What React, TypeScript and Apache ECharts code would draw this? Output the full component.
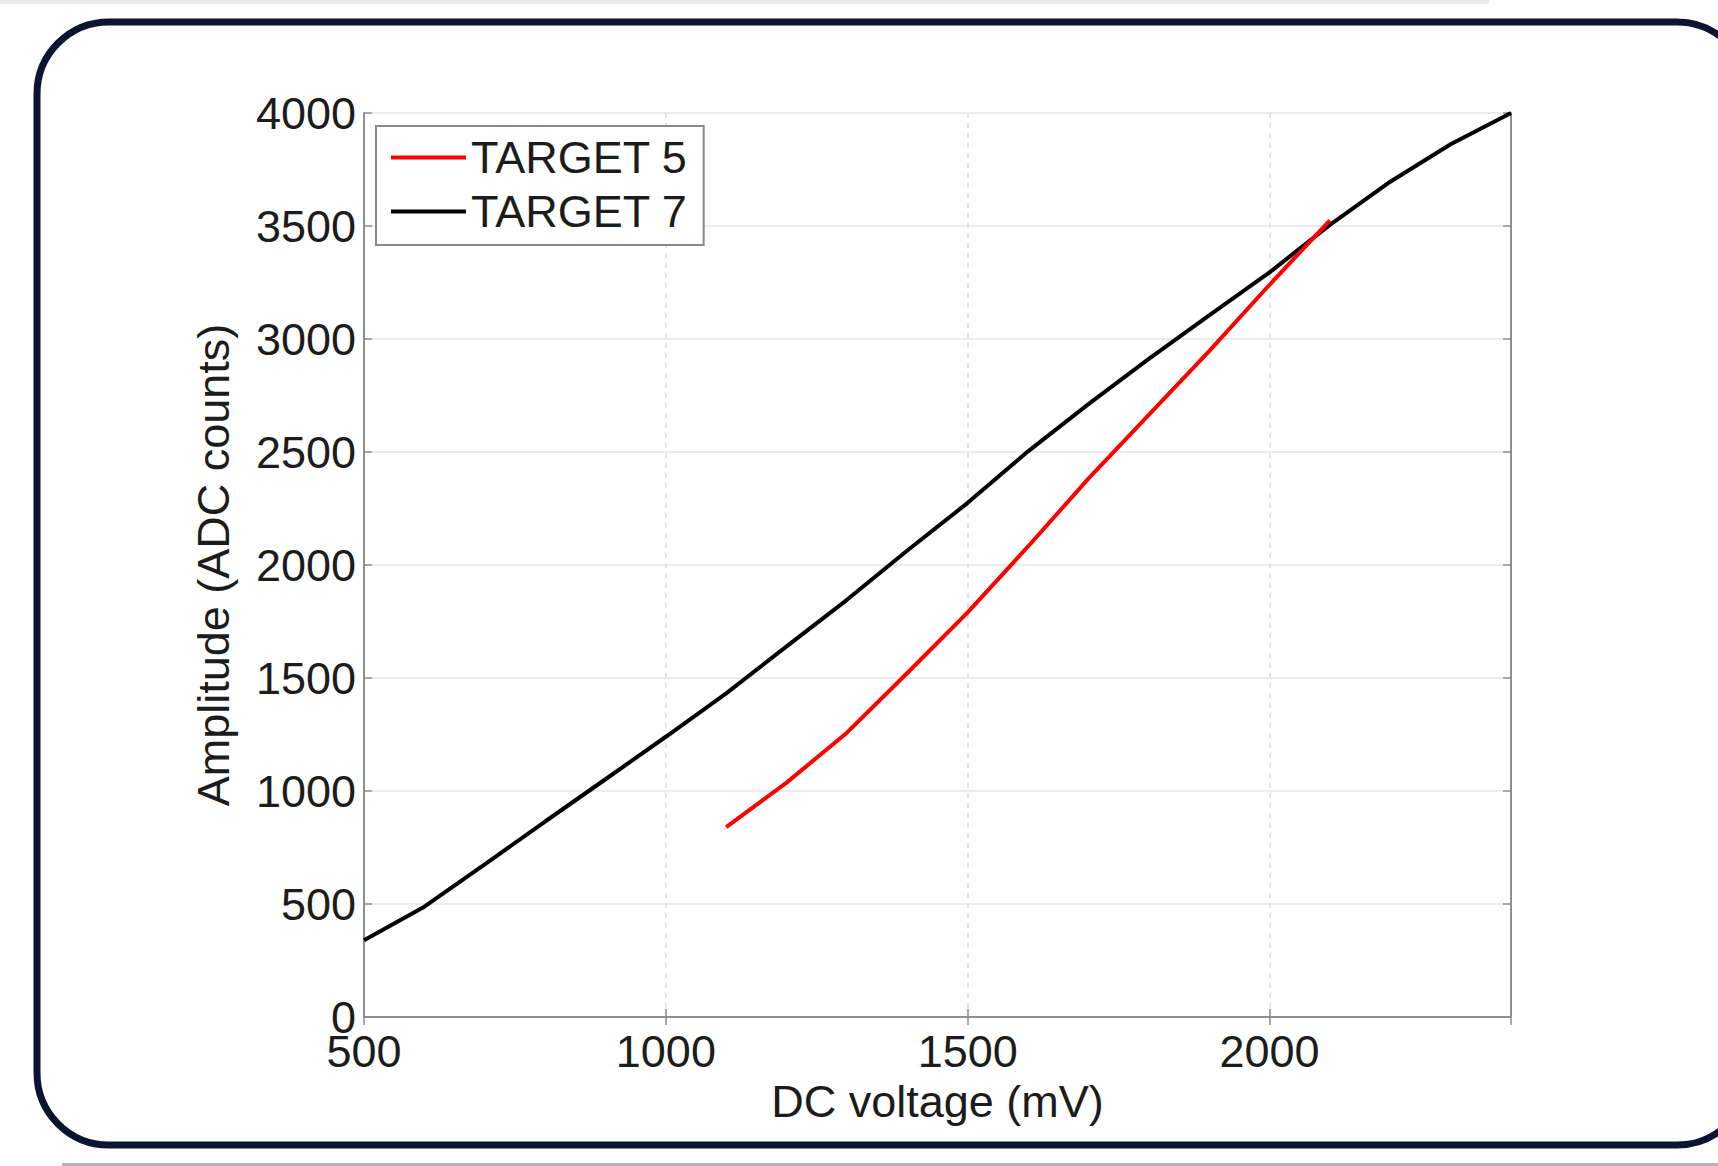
import React, { useEffect, useRef } from "react";
import * as echarts from "echarts";

// ---- data ----
const voltage5 = [1100, 1200, 1300, 1400, 1500, 1600, 1700, 1800, 1900, 2000, 2100];
const amplitude5 = [840, 1037, 1258, 1522, 1790, 2082, 2382, 2664, 2946, 3240, 3525];

const voltage7 = [500, 600, 700, 800, 900, 1000, 1100, 1200, 1300, 1400, 1500, 1600, 1700, 1800, 1900, 2000, 2100, 2200, 2300, 2400];
const amplitude7 = [340, 488, 675, 865, 1052, 1240, 1432, 1640, 1846, 2064, 2275, 2503, 2712, 2912, 3105, 3295, 3505, 3696, 3862, 4000];

const seriesNames = ["TARGET 5", "TARGET 7"];
const seriesColors = ["#ff0000", "#000000"];

const xMin = 500;
const xMax = 2400;
const xStep = 500;
const yMin = 0;
const yMax = 4000;
const yStep = 500;

const xTitle = "DC voltage (mV)";
const yTitle = "Amplitude (ADC counts)";

const FONT = "'Liberation Sans', Arial, Helvetica, sans-serif";
const TEXT = "#1c1c1c";
const BOX = "#8f8f8f";
const FS = 45;

export default function App() {
  const ref = useRef<HTMLDivElement>(null);

  useEffect(() => {
    if (!ref.current) return;
    const chart = echarts.init(ref.current, undefined, { renderer: "svg" });

    const pairs = (xs: number[], ys: number[]) => xs.map((x, i) => [x, ys[i]]);
    const plain = (v: number) => String(v);

    const boxAxisCommon = {
      axisLine: { show: true, lineStyle: { color: BOX, width: 2 } },
      axisTick: { show: true, inside: true, length: 8, lineStyle: { color: BOX, width: 1.5 } },
    };

    const option: any = {
      animation: false,
      backgroundColor: "#ffffff",
      textStyle: { fontFamily: FONT },
      graphic: [
        {
          type: "rect",
          silent: true,
          z: -10,
          shape: { x: -10, y: -3, width: 1500, height: 7, r: 3 },
          style: { fill: "#ebebeb" },
        },
        {
          type: "rect",
          silent: true,
          z: -10,
          shape: { x: 62, y: 1163, width: 1700, height: 3 },
          style: { fill: "#b4b4b4" },
        },
        {
          type: "rect",
          silent: true,
          z: -10,
          shape: { x: 37, y: 22, width: 1712, height: 1123, r: 72 },
          style: { fill: "none", stroke: "#0b1530", lineWidth: 7 },
        },
      ],
      grid: {
        left: 364,
        top: 113,
        right: 207,
        bottom: 149,
        containLabel: false,
        outerBoundsMode: "none",
      },
      legend: {
        show: true,
        orient: "vertical",
        left: 376,
        top: 126,
        padding: [9, 16, 11, 15],
        itemGap: 9,
        itemWidth: 75,
        itemHeight: 4,
        icon: "rect",
        backgroundColor: "#ffffff",
        borderColor: "#8a8a8a",
        borderWidth: 2,
        textStyle: { fontFamily: FONT, fontSize: FS, color: TEXT },
        data: seriesNames,
      },
      xAxis: [
        {
          type: "value",
          position: "bottom",
          min: xMin,
          max: xMax,
          interval: xStep,
          name: xTitle,
          nameLocation: "middle",
          nameGap: 57,
          nameTextStyle: { fontFamily: FONT, fontSize: FS, color: TEXT },
          ...boxAxisCommon,
          axisLabel: {
            show: true,
            margin: 12,
            fontFamily: FONT,
            fontSize: FS,
            color: TEXT,
            showMaxLabel: false,
            formatter: plain,
          },
          splitLine: { show: true, lineStyle: { color: "#dcdcdc", width: 1.5, type: [5, 5] } },
        },
        {
          type: "value",
          position: "top",
          min: xMin,
          max: xMax,
          interval: xStep,
          ...boxAxisCommon,
          axisLabel: { show: false },
          splitLine: { show: false },
        },
      ],
      yAxis: [
        {
          type: "value",
          position: "left",
          min: yMin,
          max: yMax,
          interval: yStep,
          name: yTitle,
          nameLocation: "middle",
          nameGap: 128,
          nameRotate: 90,
          nameTextStyle: { fontFamily: FONT, fontSize: FS, color: TEXT },
          ...boxAxisCommon,
          axisLabel: { show: true, margin: 8, fontFamily: FONT, fontSize: FS, color: TEXT, formatter: plain },
          splitLine: { show: true, lineStyle: { color: "#ececec", width: 2, type: "solid" } },
        },
        {
          type: "value",
          position: "right",
          min: yMin,
          max: yMax,
          interval: yStep,
          ...boxAxisCommon,
          axisLabel: { show: false },
          splitLine: { show: false },
        },
      ],
      series: [
        {
          name: seriesNames[0],
          type: "line",
          xAxisIndex: 0,
          yAxisIndex: 0,
          symbol: "none",
          smooth: false,
          color: seriesColors[0],
          lineStyle: { color: seriesColors[0], width: 4 },
          data: pairs(voltage5, amplitude5),
          z: 3,
        },
        {
          name: seriesNames[1],
          type: "line",
          xAxisIndex: 0,
          yAxisIndex: 0,
          symbol: "none",
          smooth: false,
          color: seriesColors[1],
          lineStyle: { color: seriesColors[1], width: 4 },
          data: pairs(voltage7, amplitude7),
          z: 2,
        },
      ],
    };

    chart.setOption(option);
    return () => chart.dispose();
  }, []);

  return (
    <div
      ref={ref}
      style={{ position: "absolute", left: 0, top: 0, width: 1718, height: 1166, background: "#fff" }}
    />
  );
}
